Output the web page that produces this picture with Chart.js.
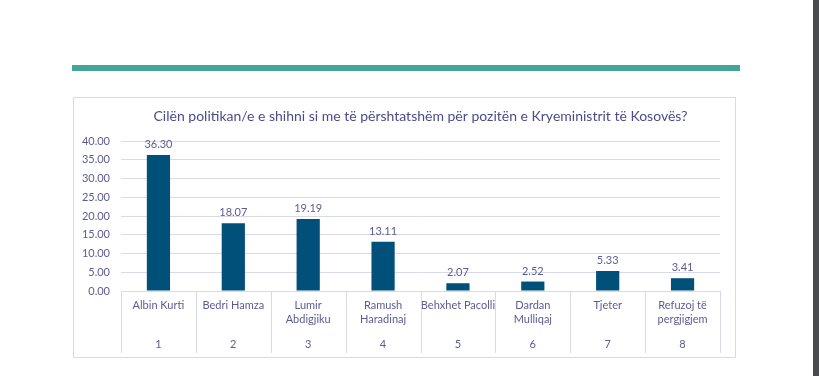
<!DOCTYPE html>
<html>
<head>
<meta charset="utf-8">
<script src="https://cdn.jsdelivr.net/npm/chart.js@4"></script>
<style>
  html, body { margin:0; padding:0; background:#fff; width:819px; height:376px; overflow:hidden; }
  #teal { position:absolute; left:72px; top:65px; width:668px; height:6px; background:#41A598; }
  #side { position:absolute; left:813px; top:0; width:6px; height:376px; background:#4A4B4F; }
  #box { position:absolute; left:73px; top:97px; width:661px; height:259px; border:1px solid #D9D9E8; background:#fff; }
  canvas { display:block; }
</style>
</head>
<body>
<div id="teal"></div>
<div id="side"></div>
<div id="box"><canvas id="c" width="661" height="259"></canvas></div>
<script>
const titleText = 'Cilën politikan/e e shihni si me të përshtatshëm për pozitën e Kryeministrit të Kosovës?';
const categories = [
  ['Albin Kurti'], ['Bedri Hamza'], ['Lumir', 'Abdigjiku'], ['Ramush', 'Haradinaj'],
  ['Behxhet Pacolli'], ['Dardan', 'Mulliqaj'], ['Tjeter'], ['Refuzoj të', 'pergjigjem']
];
const numbers = ['1', '2', '3', '4', '5', '6', '7', '8'];
const values = [36.30, 18.07, 19.19, 13.11, 2.07, 2.52, 5.33, 3.41];
const yMin = 0, yMax = 40, yStep = 5;

const textColor = '#5C5C94';
const gridColor = '#D9D9EC';
const barColor = '#00507A';
const fontFamily = 'Lato, "Open Sans", sans-serif';

const separators = {
  id: 'separators',
  afterDraw(chart) {
    const x = chart.scales.x, x2 = chart.scales.x2;
    const ctx = chart.ctx;
    const n = categories.length;
    ctx.save();
    ctx.strokeStyle = gridColor;
    ctx.lineWidth = 1;
    for (let i = 0; i <= n; i++) {
      let px;
      if (i === 0) px = x.left;
      else if (i === n) px = x.right;
      else px = (x.getPixelForValue(i - 1) + x.getPixelForValue(i)) / 2;
      px = Math.round(px) + 0.5;
      ctx.beginPath();
      ctx.moveTo(px, x.top);
      ctx.lineTo(px, x2.bottom);
      ctx.stroke();
    }
    ctx.restore();
  }
};

const dataLabels = {
  id: 'dataLabels',
  afterDatasetsDraw(chart) {
    const ctx = chart.ctx;
    const meta = chart.getDatasetMeta(0);
    ctx.save();
    ctx.fillStyle = textColor;
    ctx.font = '11px ' + fontFamily;
    ctx.textAlign = 'center';
    ctx.textBaseline = 'bottom';
    meta.data.forEach((bar, i) => {
      ctx.fillText(values[i].toFixed(2), bar.x, bar.y - 5);
    });
    ctx.restore();
  }
};

new Chart(document.getElementById('c'), {
  type: 'bar',
  data: {
    labels: categories,
    datasets: [{
      data: values,
      backgroundColor: barColor,
      borderWidth: 0,
      categoryPercentage: 1,
      barPercentage: 0.31
    }]
  },
  options: {
    responsive: false,
    animation: false,
    layout: { padding: { left: 0, right: 15, top: 0, bottom: 4 } },
    plugins: {
      legend: { display: false },
      tooltip: { enabled: false },
      title: {
        display: true,
        text: titleText,
        color: '#4B4B8C',
        fullSize: false,
        font: { family: fontFamily, size: 14, weight: 'normal', lineHeight: 1.2 },
        padding: { top: 9.6, bottom: 16.6 }
      }
    },
    scales: {
      y: {
        min: yMin, max: yMax,
        ticks: {
          stepSize: yStep,
          color: textColor,
          font: { family: fontFamily, size: 11 },
          padding: 11,
          callback: v => Number(v).toFixed(2)
        },
        grid: { color: gridColor, drawTicks: false },
        border: { display: false },
        afterFit(s) { s.width = 47; }
      },
      x: {
        type: 'category',
        offset: true,
        ticks: {
          color: textColor,
          font: { family: fontFamily, size: 11, lineHeight: 1.3 },
          padding: 7,
          maxRotation: 0,
          autoSkip: false
        },
        grid: { display: true, drawOnChartArea: false, drawTicks: false, color: gridColor },
        border: { display: true, color: gridColor },
        afterFit(s) { s.height = 40; }
      },
      x2: {
        type: 'category',
        position: 'bottom',
        labels: numbers,
        offset: true,
        ticks: {
          color: textColor,
          font: { family: fontFamily, size: 11, lineHeight: 1.2 },
          padding: -1,
          maxRotation: 0,
          autoSkip: false
        },
        grid: { display: false },
        border: { display: false },
        afterFit(s) { s.height = 22; }
      }
    }
  },
  plugins: [separators, dataLabels]
});
</script>
</body>
</html>
